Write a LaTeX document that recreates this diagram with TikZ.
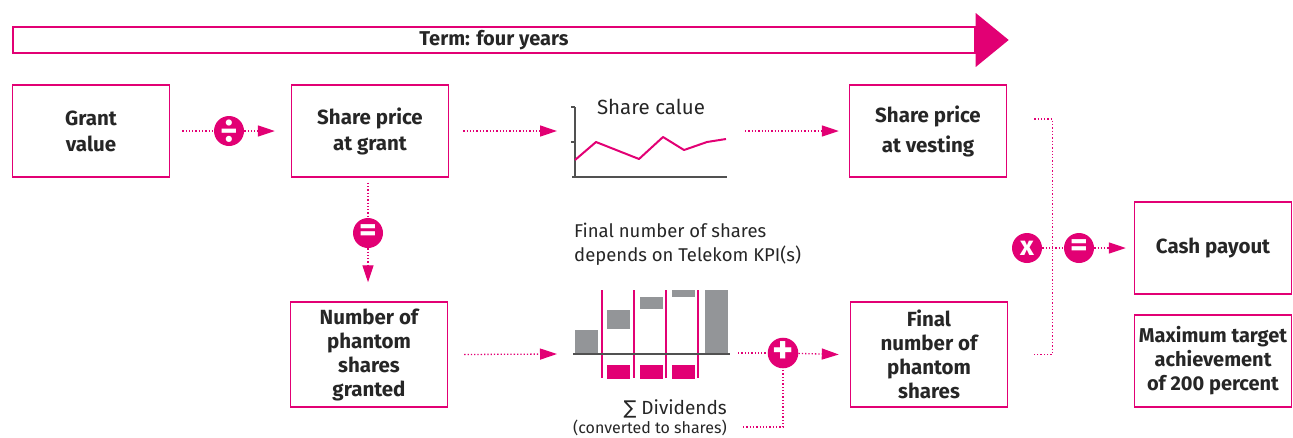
\documentclass[tikz,border=0pt]{standalone}
\usepackage{fontspec}
\setmainfont{Fira Sans}
\newfontfamily\symfont{DejaVu Sans}
\usetikzlibrary{arrows.meta,positioning}
\definecolor{tmagenta}{HTML}{E20074}
\definecolor{bargray}{HTML}{939598}
\definecolor{inkgray}{HTML}{262626}

\begin{document}
\begin{tikzpicture}[x=1pt, y=-1pt,
  box/.style={draw=tmagenta, line width=1.4pt, minimum width=157pt, minimum height=92pt, align=center, text=inkgray, inner sep=0pt, font=\fontsize{20.5}{26}\selectfont\bfseries},
  tallbox/.style={box, minimum height=105pt, font=\fontsize{20.5}{24}\selectfont\bfseries},
  op/.style={circle, fill=tmagenta, minimum size=30pt, inner sep=0pt, text=white, font=\fontsize{34}{34}\selectfont\bfseries},
  flow/.style={draw=tmagenta, line width=1.3pt, dotted},
  flowtip/.style={-{Triangle[length=17pt, width=11pt]}},
  note/.style={text=inkgray, inner sep=0pt, font=\fontsize{18.5}{24}\selectfont}
]
\useasboundingbox (0,0) rectangle (1293,437);

% Term arrow
\node[draw=tmagenta, line width=1.4pt, minimum width=962pt, minimum height=26pt, inner sep=0pt, text=inkgray, font=\fontsize{20}{20}\selectfont\bfseries] (term) at (494,40) {Term: four years};
\fill[tmagenta] ([yshift=27pt]term.east) -- ([xshift=33pt]term.east) -- ([yshift=-27pt]term.east) -- cycle;

% Boxes
\node[box] (grant) at (91,131) {Grant\\value};
\node[box] (pgrant) at (370,131) {Share price\\at grant};
\node[box] (pvest) at (928,131) {Share price\\[4pt]at vesting};
\node[box] (cash) at (1213,248) {Cash payout};
\node[box, font=\fontsize{20}{24}\selectfont\bfseries] (maxtarget) at (1213,361) {Maximum target\\achievement\\of 200 percent};
\node[tallbox] (granted) at (369,354.5) {Number of\\phantom\\shares\\granted};
\node[tallbox] (final) at (929,354.5) {Final\\number of\\phantom\\shares};

% Operators
\node[op] (div) at (229,131) {÷};
\node[op] (eqa) at (368,233) {=};
\node[op, font=\fontsize{27}{27}\selectfont\bfseries] (times) at (1027,248) {x};
\node[op] (eqb) at (1079,248) {=};
\node[op, font=\fontsize{40}{40}\selectfont\bfseries] (plus) at (783,353) {+};

% Share value chart
\draw[inkgray!80, line width=1.3pt] (575,107) -- (575,177);
\draw[inkgray!80, line width=1.3pt] (571,107) -- (575,107) (571,142) -- (575,142);
\draw[inkgray!80, line width=1.3pt] (572,177) -- (727,177);
\draw[tmagenta, line width=2pt, line join=round] (575,160) -- (596,142) -- (639,159) -- (663,137) -- (684,150) -- (707,142) -- (726,139);
\node[note, font=\fontsize{20.5}{20}\selectfont] (charttitle) at (651,107) {Share calue};
\coordinate (chartin) at (557,131);
\coordinate (chartout) at (745,131);

% KPI waterfall
\node[note, anchor=north west, align=left] (kpi) at (574,223) {Final number of shares\\depends on Telekom KPI(s)};
\fill[bargray] (575,330) rectangle (598,354);
\fill[bargray] (607,310) rectangle (630,329);
\fill[bargray] (640,297) rectangle (663,309);
\fill[bargray] (672,290) rectangle (695,297);
\fill[bargray] (705,290) rectangle (728,354);
\foreach \x in {602,634,666,698}
  \draw[tmagenta, line width=1.3pt] (\x,290) -- (\x,378);
\foreach \x in {607,640,672}
  \fill[tmagenta] (\x,365) rectangle ++(23,14);
\draw[inkgray!80, line width=1.5pt] (573,354) -- (730,354);
\coordinate (barsin) at (557,354);
\coordinate (barsout) at (738,353);
\node[note, anchor=north east, align=right, font=\fontsize{19}{19}\selectfont] (divs) at (727,399) {{\symfont ∑} Dividends\\{\fontsize{16}{19}\selectfont (converted to shares)}};
\coordinate (divsend) at (743,427);

% Connectors
\draw[flow] ([xshift=12pt]grant.east) -- (div);
\draw[flow, flowtip] (div) -- ([xshift=-16pt]pgrant.west);
\draw[flow, flowtip] ([xshift=14pt]pgrant.east) -- (chartin);
\draw[flow, flowtip] (chartout) -- ([xshift=-10pt]pvest.west);
\draw[flow] ([yshift=-5pt]pgrant.south -| eqa) -- (eqa);
\draw[flow, flowtip] (eqa) -- ([yshift=19pt]granted.north -| eqa);
\draw[flow, flowtip] ([xshift=16pt]granted.east) -- (barsin);
\draw[flow] (barsout) -- (plus);
\draw[flow, flowtip] (plus) -- ([xshift=-11pt]final.west);
\draw[flow] (divsend) -| (plus);
\draw[flow] ([xshift=27pt, yshift=12pt]pvest.east) -- ++(18,0) |- ([xshift=26pt]final.east);
\draw[flow] (times) -- (eqb);
\draw[flow, flowtip] (eqb) -- ([xshift=-8pt]cash.west);
\end{tikzpicture}
\end{document}
